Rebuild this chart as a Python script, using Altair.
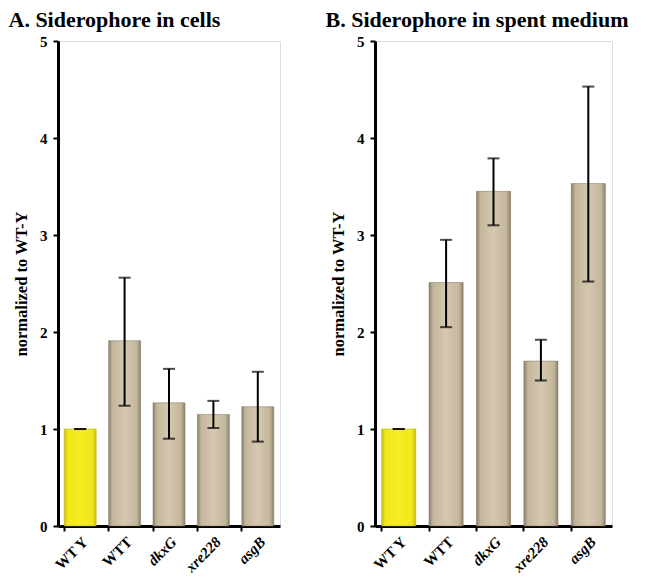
import altair as alt
import pandas as pd

strains = ["WT Y", "WTT", "dkxG", "xre228", "asgB"]
cells_mean = [1.0, 1.91, 1.27, 1.15, 1.23]
cells_lo = [1.0, 1.24, 0.90, 1.01, 0.87]
cells_hi = [1.0, 2.56, 1.62, 1.29, 1.59]
spent_mean = [1.0, 2.51, 3.45, 1.70, 3.53]
spent_lo = [1.0, 2.05, 3.10, 1.50, 2.52]
spent_hi = [1.0, 2.95, 3.79, 1.92, 4.53]
y_ticks = [0, 0.5, 1, 1.5, 2, 2.5, 3, 3.5, 4, 4.5, 5]

FONT = "Liberation Serif"

tan = alt.Gradient(
    gradient="linear", x1=0, x2=1, y1=0, y2=0,
    stops=[
        alt.GradientStop(offset=0, color="#8c806b"),
        alt.GradientStop(offset=0.12, color="#c4b69c"),
        alt.GradientStop(offset=0.5, color="#d5c8ae"),
        alt.GradientStop(offset=0.88, color="#c4b69c"),
        alt.GradientStop(offset=1, color="#8c806b"),
    ],
)
yellow = alt.Gradient(
    gradient="linear", x1=0, x2=1, y1=0, y2=0,
    stops=[
        alt.GradientStop(offset=0, color="#c9bf10"),
        alt.GradientStop(offset=0.12, color="#f2e71c"),
        alt.GradientStop(offset=0.5, color="#f7ec22"),
        alt.GradientStop(offset=0.88, color="#f2e71c"),
        alt.GradientStop(offset=1, color="#c9bf10"),
    ],
)


def panel(title, mean, lo, hi, width):
    df = pd.DataFrame({"strain": strains, "mean": mean, "lo": lo, "hi": hi})
    x = alt.X(
        "strain:N", sort=strains, title=None,
        scale=alt.Scale(paddingInner=0.28, paddingOuter=0.14),
        axis=alt.Axis(
            labelAngle=-45, labelFont=FONT, labelFontSize=15, labelFontWeight="bold",
            labelColor="black", labelPadding=3,
            labelFontStyle={"condition": {"test": "datum.value == 'WT Y' || datum.value == 'WTT'", "value": "normal"}, "value": "italic"},
            bandPosition=0, tickSize=5, tickWidth=2, tickColor="black",
            domainWidth=3, domainColor="black",
        ),
    )
    y = alt.Y(
        "mean:Q", title="normalized to WT-Y",
        scale=alt.Scale(domain=[0, 5], nice=False),
        axis=alt.Axis(
            values=y_ticks, format="d",
            labelExpr="datum.value % 1 == 0 ? format(datum.value, 'd') : ''",
            grid=False, labelFont=FONT, labelFontSize=15, labelFontWeight="bold",
            labelColor="black", labelPadding=6, tickSize=5, tickWidth=2, tickColor="black",
            domainWidth=3, domainColor="black",
            titleFont=FONT, titleFontSize=16.5, titleFontWeight="bold", titleColor="black",
            titlePadding=10,
        ),
    )
    base = alt.Chart(df)
    bars_y = base.transform_filter("datum.strain == 'WT Y'").mark_bar(
        color=yellow, stroke="#b0a80c", strokeWidth=0.5
    ).encode(x=x, y=y)
    bars_t = base.transform_filter("datum.strain != 'WT Y'").mark_bar(
        color=tan, stroke="#7d735f", strokeWidth=0.5
    ).encode(x=x, y=y)
    rule = base.mark_rule(color="black", strokeWidth=2).encode(
        x=alt.X("strain:N", sort=strains), y="lo:Q", y2="hi:Q"
    )
    cap_lo = base.mark_tick(color="black", thickness=2, size=12).encode(
        x=alt.X("strain:N", sort=strains), y="lo:Q"
    )
    cap_hi = base.mark_tick(color="black", thickness=2, size=12).encode(
        x=alt.X("strain:N", sort=strains), y="hi:Q"
    )
    return alt.layer(bars_y, bars_t, rule, cap_lo, cap_hi).properties(
        width=width, height=485,
        title=alt.TitleParams(
            title, anchor="start", font=FONT, fontSize=22, fontWeight="bold",
            color="black", offset=2, dx=-5,
        ),
    )


a = panel("A. Siderophore in cells", cells_mean, cells_lo, cells_hi, 222)
b = panel("B. Siderophore in spent medium", spent_mean, spent_lo, spent_hi, 237)

chart = alt.hconcat(a, b, spacing=44).configure_view(stroke=None).configure(
    padding={"left": 0, "top": 0, "right": 0, "bottom": 0}
).configure_title(font=FONT, fontWeight="bold", color="black")

chart.save("out.html", embed_options={"renderer": "svg", "actions": False})
